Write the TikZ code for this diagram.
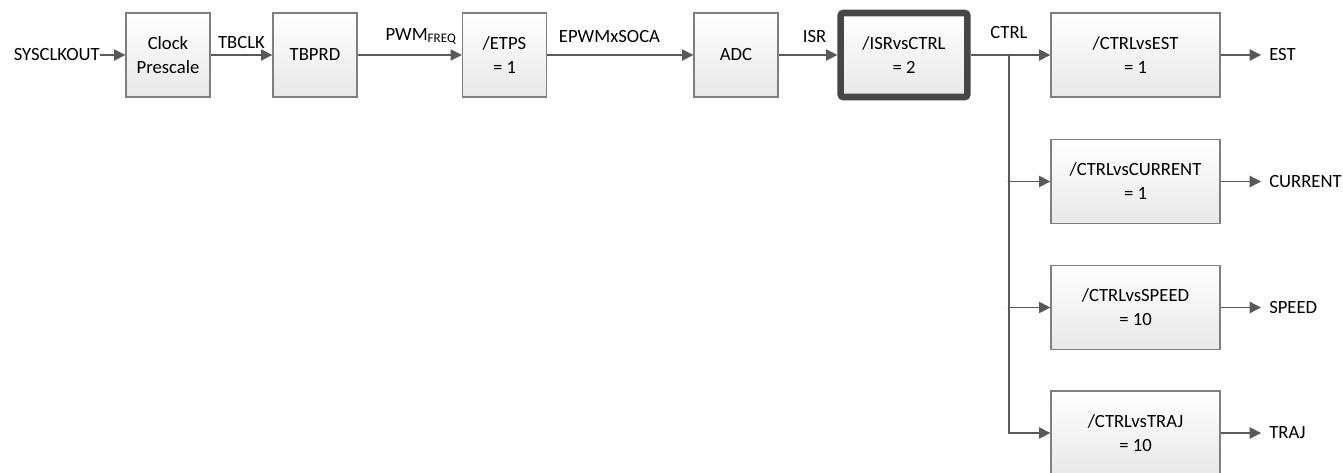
\documentclass[tikz,border=0pt]{standalone}
\usepackage{fontspec}
\setmainfont{Carlito}
\usetikzlibrary{arrows.meta,calc,positioning}
\definecolor{wiregray}{RGB}{89,89,89}
\definecolor{boxgray}{RGB}{127,127,127}
\definecolor{isrgray}{RGB}{70,70,70}

\begin{document}
\begin{tikzpicture}[x=0.75pt,y=-0.75pt,
    font=\fontsize{14}{18}\selectfont,
    blk/.style={draw=boxgray, line width=1pt, top color=white, bottom color=black!9,
      minimum width=63pt, minimum height=63pt, align=center, inner sep=2pt},
    wideblk/.style={blk, minimum width=126.75pt},
    wire/.style={draw=wiregray, line width=1pt, -{Triangle[length=8.5pt,width=8.5pt]}},
    lbl/.style={inner sep=0pt, anchor=base},
    io/.style={inner sep=0pt}]
    \useasboundingbox (0,0) rectangle (1343,472);
    %Blocks
    \node[blk] (clk) at (168,55) {Clock\\Prescale};
    \node[blk] (tbprd) at (315,55) {TBPRD};
    \node[blk] (etps) at (504.5,55) {/ETPS\\= 1};
    \node[blk] (adc) at (736,55) {ADC};
    \node[blk, draw=isrgray, line width=4.9pt, rounded corners=2pt, minimum width=95pt] (isrc) at (904,55) {/ISRvsCTRL\\= 2};
    \node[wideblk] (est) at (1135.5,55) {/CTRLvsEST\\= 1};
    \node[wideblk] (cur) at (1135.5,181.5) {/CTRLvsCURRENT\\= 1};
    \node[wideblk] (spd) at (1135.5,307.5) {/CTRLvsSPEED\\= 10};
    \node[wideblk] (traj) at (1135.5,433) {/CTRLvsTRAJ\\= 10};
    %Signals
    \node[io, anchor=east] (sys) at (100,55) {SYSCLKOUT};
    \node[lbl] (tbclk) at (241.5,48) {TBCLK};
    \node[lbl] (pwm) at (421,40) {PWM\textsubscript{FREQ}};
    \node[lbl] (soca) at (609.5,42) {EPWMxSOCA};
    \node[lbl] (isr) at (814.5,42) {ISR};
    \node[lbl] (ctrl) at (1009,38) {CTRL};
    \node[io, anchor=west] (estout) at (1269,55) {EST};
    \node[io, anchor=west] (curout) at (1269,181.5) {CURRENT};
    \node[io, anchor=west] (spdout) at (1269,307.5) {SPEED};
    \node[io, anchor=west] (trajout) at (1269,433) {TRAJ};
    %Chain
    \draw[wire] (sys) -- (clk);
    \draw[wire] (clk) -- (tbprd);
    \draw[wire] (tbprd) -- (etps);
    \draw[wire] (etps) -- (adc);
    \draw[wire] (adc) -- (isrc);
    \draw[wire] (isrc) -- (est);
    %Branches
    \coordinate (jn) at (1009,55);
    \draw[wire] (jn) |- (traj.west);
    \draw[wire] (jn |- cur.west) -- (cur.west);
    \draw[wire] (jn |- spd.west) -- (spd.west);
    \fill[wiregray] (jn) circle (1.5);
    \fill[wiregray] (jn |- cur.west) circle (1.5);
    \fill[wiregray] (jn |- spd.west) circle (1.5);
    %Outputs
    \draw[wire, shorten >=6pt] (est) -- (estout);
    \draw[wire, shorten >=6pt] (cur) -- (curout);
    \draw[wire, shorten >=6pt] (spd) -- (spdout);
    \draw[wire, shorten >=6pt] (traj) -- (trajout);
\end{tikzpicture}
\end{document}
